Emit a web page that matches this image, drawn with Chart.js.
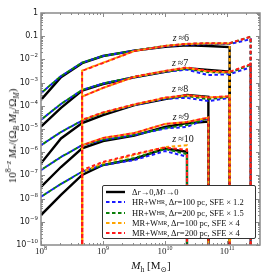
<!DOCTYPE html>
<html>
<head>
<meta charset="utf-8">
<script src="https://cdn.jsdelivr.net/npm/chart.js@4.4.1/dist/chart.umd.min.js"></script>
<style>
  body { margin: 0; background: #fff; }
  #wrap { position: relative; width: 274px; height: 274px; }
  #chart { position: absolute; left: 0; top: 0; }
  .serif { font-family: "Liberation Serif", "DejaVu Serif", serif; color: #111; }
  #ytitle { position: absolute; left: 12px; top: 136px; transform: translate(-50%, -50%) rotate(-90deg); white-space: nowrap; font-size: 11px; }
  #xtitle { position: absolute; left: 151px; top: 265px; transform: translate(-50%, -50%); white-space: nowrap; font-size: 11px; }
  #legend { position: absolute; left: 102px; top: 185px; width: 154px; height: 54px; border: 1px solid #333; border-radius: 2px; background: #fff; box-sizing: border-box; padding: 1px 0 0 2px; }
  .row { height: 10.3px; display: flex; align-items: center; font-size: 8.5px; white-space: nowrap; }
  .row svg { margin-right: 6px; flex: none; }
  sub, sup { font-size: 70%; line-height: 0; }
</style>
</head>
<body>
<div id="wrap">
  <canvas id="chart" width="274" height="274"></canvas>
  <div id="ytitle" class="serif">10<sup>8&minus;<i>z</i></sup> <i>M</i><sub>*</sub>/(&Omega;<sub><i>B</i></sub> <i>M</i><sub><i>h</i></sub>/&Omega;<sub><i>M</i></sub>)</div>
  <div id="xtitle" class="serif"><i>M</i><sub>h</sub> [M<sub>&#8857;</sub>]</div>
  <div id="legend" class="serif"></div>
</div>
<script>
const MASS = [1e8, 2.1e8, 4.6e8, 1e9, 3.2e9, 1e10, 2.26e10, 5e10, 1.1e11, 2.4e11];
const REDSHIFTS = [6, 7, 8, 9, 10];

// one row per redshift (z = 6..10), null = no value at that mass
const REF = [
  [1.8e-4, 1.7e-3, 6.9e-3, 1.4e-2, 2.4e-2, 3.5e-2, 4.1e-2, 3.8e-2, 3.4e-2, null],
  [1.26e-5, 8.1e-5, 4.5e-4, 8.7e-4, 1.7e-3, 2.95e-3, 4.2e-3, 3.5e-3, 2.95e-3, null],
  [3.3e-7, 3.9e-6, 1.8e-5, 4.0e-5, 1.07e-4, 1.95e-4, 2.95e-4, 2.45e-4, null, null],
  [3.2e-8, 2.3e-7, 1.48e-6, 3.0e-6, 5.2e-6, 1.23e-5, 1.78e-5, 2.1e-5, null, null],
  [1.95e-9, 1.45e-8, 1.05e-7, 2.8e-7, 5.1e-7, 1.45e-6, 1.05e-6, null, null, null]
];
const HR100 = [
  [3.5e-4, 1.9e-3, 7.2e-3, 1.4e-2, 2.4e-2, 3.6e-2, 4.3e-2, 4.6e-2, 4.6e-2, 7.4e-2],
  [2.5e-5, 1.2e-4, 4.8e-4, 9.1e-4, 1.7e-3, 2.9e-3, 3.6e-3, 2.1e-3, 2.3e-3, 4.6e-3],
  [2.0e-6, 7.4e-6, 2.3e-5, 4.9e-5, 1.07e-4, 2.0e-4, 2.2e-4, 1.6e-4, 2.2e-4, null],
  [1.7e-7, 6.2e-7, 2.0e-6, 3.4e-6, 5.5e-6, 1.05e-5, 1.23e-5, 2.9e-5, null, null],
  [1.2e-8, 4.3e-8, 1.45e-7, 2.8e-7, 4.6e-7, 1.12e-6, 6.4e-7, null, null, null]
];
const HR200 = [
  [3.5e-4, 1.9e-3, 7.2e-3, 1.4e-2, 2.4e-2, 3.8e-2, 4.6e-2, 4.9e-2, 4.9e-2, 9.5e-2],
  [2.5e-5, 1.2e-4, 4.8e-4, 9.1e-4, 1.75e-3, 3.0e-3, 3.9e-3, 2.8e-3, 2.7e-3, 5.8e-3],
  [2.0e-6, 7.4e-6, 2.3e-5, 4.9e-5, 1.1e-4, 2.1e-4, 2.6e-4, 1.95e-4, 2.4e-4, null],
  [1.7e-7, 6.2e-7, 2.0e-6, 3.4e-6, 5.6e-6, 1.1e-5, 1.5e-5, 2.9e-5, null, null],
  [1.2e-8, 4.3e-8, 1.45e-7, 2.8e-7, 5.6e-7, 1.38e-6, 8.3e-7, null, null, null]
];
const MR100 = [
  [null, null, 3.3e-3, 7.2e-3, 2.3e-2, 3.8e-2, 4.6e-2, 4.9e-2, 4.9e-2, null],
  [null, null, 2.5e-4, 5.9e-4, 1.75e-3, 3.1e-3, 4.3e-3, 3.0e-3, 2.8e-3, null],
  [null, null, 2.4e-5, 5.0e-5, 1.12e-4, 2.2e-4, 2.8e-4, 2.3e-4, 2.5e-4, null],
  [null, null, 2.0e-6, 4.1e-6, 6.7e-6, 1.65e-5, 2.0e-5, 3.1e-5, null, null],
  [null, null, 1.4e-7, 3.4e-7, 7.6e-7, 1.67e-6, 2.0e-6, null, null, null]
];
const MR200 = [
  [null, null, 3.2e-3, 7.0e-3, 2.3e-2, 3.8e-2, 4.7e-2, 5.0e-2, 5.0e-2, 9.5e-2],
  [null, null, 2.5e-4, 5.9e-4, 1.8e-3, 3.2e-3, 4.5e-3, 3.2e-3, 2.9e-3, 6.2e-3],
  [null, null, 2.5e-5, 5.2e-5, 1.15e-4, 2.25e-4, 2.9e-4, 2.3e-4, 2.6e-4, null],
  [null, null, 2.0e-6, 4.1e-6, 6.7e-6, 1.65e-5, 2.0e-5, 3.1e-5, null, null],
  [null, null, 1.7e-7, 3.8e-7, 8.3e-7, 1.6e-6, 1.25e-6, null, null, null]
];

const X_TICKS = [1e8, 1e9, 1e10, 1e11];
const X_TICK_LABELS = ["10^8", "10^9", "10^10", "10^11"];
const Y_TICKS = [1e-10, 1e-9, 1e-8, 1e-7, 1e-6, 1e-5, 1e-4, 1e-3, 1e-2, 0.1, 1];
const Y_TICK_LABELS = ["10^\u221210", "10^\u22129", "10^\u22128", "10^\u22127", "10^\u22126",
  "10^\u22125", "10^\u22124", "10^\u22123", "10^\u22122", "0.1", "1"];
const X_MIN = 1e8, X_MAX = 3.4e11, Y_MIN = 1e-10, Y_MAX = 1;

const MODELS = [
  { rows: REF, color: "#000000", width: 2.4, dash: [], offset: 0, order: 5,
    label: "&Delta;<i>r</i> &rarr;0, <i>M</i><sub>1</sub> &rarr;0" },
  { rows: HR100, color: "#1a1aff", width: 2, dash: [3.5, 2.5], offset: 0, order: 4,
    label: "HR+W<sub>HR</sub>, &Delta;<i>r</i> =100 pc, SFE &times; 1.2" },
  { rows: HR200, color: "#0a800a", width: 2, dash: [3.5, 2.5], offset: 3, order: 3,
    label: "HR+W<sub>HR</sub>, &Delta;<i>r</i> =200 pc, SFE &times; 1.5" },
  { rows: MR100, color: "#ffa500", width: 2, dash: [3.5, 2.5], offset: 1.5, order: 2,
    label: "MR+W<sub>MR</sub>, &Delta;<i>r</i> =100 pc, SFE &times; 4" },
  { rows: MR200, color: "#ff1a1a", width: 2, dash: [3.5, 2.5], offset: 4.5, order: 1,
    label: "MR+W<sub>MR</sub>, &Delta;<i>r</i> =200 pc, SFE &times; 4" }
];

// z label anchors (mass, value)
const Z_LABEL_AT = [[1.8e10, 8.3e-2], [1.75e10, 6.9e-3], [1.75e10, 5.3e-4], [1.8e10, 3.3e-5], [1.95e10, 3.4e-6]];

// curves start/stop with a vertical drop to the bottom of the axis
function toPoints(row) {
  const idx = row.map((v, i) => (v === null ? -1 : i)).filter((i) => i >= 0);
  const first = idx[0], last = idx[idx.length - 1];
  const pts = [];
  if (first > 0) pts.push({ x: MASS[first], y: Y_MIN });
  idx.forEach((i) => pts.push({ x: MASS[i], y: row[i] }));
  pts.push({ x: MASS[last], y: Y_MIN });
  return pts;
}

const datasets = [];
MODELS.forEach((m) => {
  m.rows.forEach((row, zi) => {
    datasets.push({
      label: "z=" + REDSHIFTS[zi],
      data: toPoints(row),
      borderColor: m.color,
      borderWidth: m.width,
      borderDash: m.dash,
      borderDashOffset: m.offset,
      pointRadius: 0,
      tension: 0,
      fill: false,
      order: m.order
    });
  });
});

// "10^-3" -> base + raised exponent
function drawPow(ctx, text, x, y, align, base, expo) {
  const parts = text.split("^");
  ctx.font = base;
  const bw = ctx.measureText(parts[0]).width;
  ctx.font = expo;
  const ew = parts[1] ? ctx.measureText(parts[1]).width : 0;
  const w = bw + ew;
  let sx = align === "right" ? x - w : x - w / 2;
  ctx.textAlign = "left";
  ctx.textBaseline = "middle";
  ctx.font = base;
  ctx.fillText(parts[0], sx, y);
  if (parts[1]) {
    ctx.font = expo;
    ctx.fillText(parts[1], sx + bw, y - 3.5);
  }
}

const framePlugin = {
  id: "frame",
  afterDatasetsDraw(chart) {
    const { ctx, chartArea: a, scales } = chart;
    const x = scales.x, y = scales.y;
    ctx.save();
    ctx.strokeStyle = "#8a8a8a";
    ctx.lineWidth = 1;
    ctx.beginPath();
    const minor = (lo, hi) => {
      const out = [];
      for (let d = Math.floor(Math.log10(lo)); d <= Math.ceil(Math.log10(hi)); d++) {
        for (let k = 2; k <= 9; k++) {
          const v = k * Math.pow(10, d);
          if (v > lo && v < hi) out.push(v);
        }
      }
      return out;
    };
    const xt = (v, len) => {
      const p = Math.round(x.getPixelForValue(v)) + 0.5;
      ctx.moveTo(p, a.bottom); ctx.lineTo(p, a.bottom - len);
      ctx.moveTo(p, a.top); ctx.lineTo(p, a.top + len);
    };
    const yt = (v, len) => {
      const p = Math.round(y.getPixelForValue(v)) + 0.5;
      ctx.moveTo(a.left, p); ctx.lineTo(a.left + len, p);
      ctx.moveTo(a.right, p); ctx.lineTo(a.right - len, p);
    };
    X_TICKS.forEach((v) => xt(v, 4));
    minor(X_MIN, X_MAX).forEach((v) => xt(v, 2));
    Y_TICKS.forEach((v) => yt(v, 4));
    minor(Y_MIN, Y_MAX).forEach((v) => yt(v, 2));
    ctx.stroke();
    ctx.lineWidth = 1.5;
    ctx.strokeRect(a.left, a.top, a.right - a.left, a.bottom - a.top);

    // tick labels
    ctx.fillStyle = "#222";
    Y_TICKS.forEach((v, i) => {
      drawPow(ctx, Y_TICK_LABELS[i], a.left - 3, y.getPixelForValue(v), "right",
        '8px "DejaVu Sans"', '5.5px "DejaVu Sans"');
    });
    X_TICKS.forEach((v, i) => {
      drawPow(ctx, X_TICK_LABELS[i], x.getPixelForValue(v), a.bottom + 7, "center",
        '9px "Liberation Serif"', '6px "Liberation Serif"');
    });

    // redshift labels
    ctx.fillStyle = "#111";
    ctx.textBaseline = "middle";
    ctx.textAlign = "left";
    Z_LABEL_AT.forEach((p, i) => {
      const cx = x.getPixelForValue(p[0]), cy = y.getPixelForValue(p[1]);
      ctx.font = 'italic 10px "Liberation Serif"';
      const zw = ctx.measureText("z").width;
      ctx.font = '10px "Liberation Serif"';
      const rest = "\u2009\u2248" + REDSHIFTS[i];
      const rw = ctx.measureText(rest).width;
      const sx = cx - (zw + rw) / 2;
      ctx.font = 'italic 10px "Liberation Serif"';
      ctx.fillText("z", sx, cy);
      ctx.font = '10px "Liberation Serif"';
      ctx.fillText(rest, sx + zw, cy);
    });
    ctx.restore();
  }
};

new Chart(document.getElementById("chart").getContext("2d"), {
  type: "line",
  data: { datasets: datasets },
  options: {
    responsive: false,
    animation: false,
    devicePixelRatio: 1,
    layout: { padding: { top: 13, right: 14, left: 0, bottom: 0 } },
    plugins: { legend: { display: false }, tooltip: { enabled: false } },
    scales: {
      x: {
        type: "logarithmic",
        min: X_MIN,
        max: X_MAX,
        afterBuildTicks: (s) => { s.ticks = X_TICKS.map((v) => ({ value: v })); },
        afterFit: (s) => { s.height = 29; },
        grid: { display: false, drawTicks: false },
        border: { display: false },
        ticks: { display: false }
      },
      y: {
        type: "logarithmic",
        min: Y_MIN,
        max: Y_MAX,
        afterBuildTicks: (s) => { s.ticks = Y_TICKS.map((v) => ({ value: v })); },
        afterFit: (s) => { s.width = 41; },
        grid: { display: false, drawTicks: false },
        border: { display: false },
        ticks: { display: false }
      }
    }
  },
  plugins: [framePlugin]
});

// legend box
const legend = document.getElementById("legend");
MODELS.forEach((m) => {
  const row = document.createElement("div");
  row.className = "row";
  const dash = m.dash.length ? ' stroke-dasharray="' + m.dash.join(" ") + '"' : "";
  row.innerHTML = '<svg width="21" height="4"><line x1="1" y1="2" x2="20" y2="2" stroke="' + m.color +
    '" stroke-width="' + m.width + '"' + dash + "/></svg>" + m.label;
  legend.appendChild(row);
});
</script>
</body>
</html>
